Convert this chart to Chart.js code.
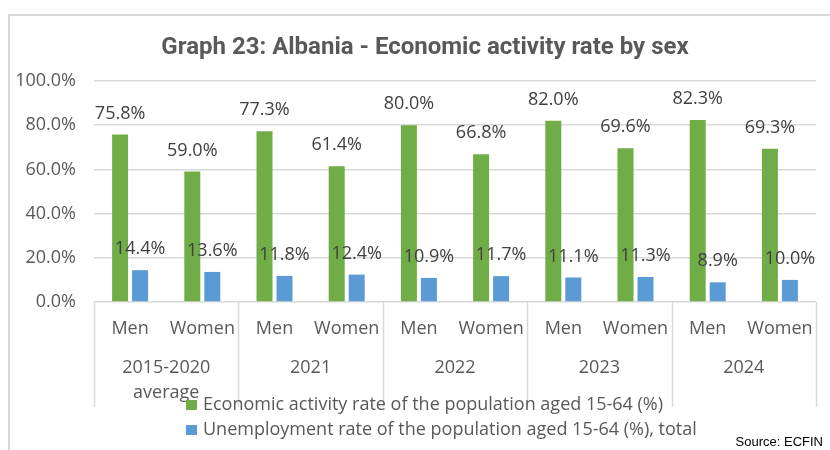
<!DOCTYPE html>
<html>
<head>
<meta charset="utf-8">
<script src="https://cdn.jsdelivr.net/npm/chart.js@4.4.1/dist/chart.umd.min.js"></script>
<style>
  html, body { margin: 0; padding: 0; background: #fff; }
  #wrap { width: 830px; height: 450px; position: relative; }
</style>
</head>
<body>
<div id="wrap"><canvas id="chart" width="830" height="450"></canvas></div>
<script>
// --- data ---
const years = ['2015-2020\naverage', '2021', '2022', '2023', '2024'];
const sexes = ['Men', 'Women'];
const activityRate = [75.8, 59.0, 77.3, 61.4, 80.0, 66.8, 82.0, 69.6, 82.3, 69.3];
const unemploymentRate = [14.4, 13.6, 11.8, 12.4, 10.9, 11.7, 11.1, 11.3, 8.9, 10.0];
const yTicks = [0, 20, 40, 60, 80, 100];
const seriesNames = [
    'Economic activity rate of the population aged 15-64 (%)',
    'Unemployment rate of the population aged 15-64 (%), total'
];
const titleText = 'Graph 23: Albania - Economic activity rate by sex';

const labels = [];
years.forEach(y => sexes.forEach(s => labels.push(s)));

const TEXT = '#595959';
const GRID = '#D9D9D9';
const FONT = "'Open Sans', sans-serif";

// outer frame, title, value labels, two level axis, legend and source
const decorPlugin = {
    id: 'decor',
    beforeDraw(chart) {
        const ctx = chart.ctx;
        ctx.save();
        ctx.strokeStyle = GRID;
        ctx.lineWidth = 2;
        ctx.beginPath();
        ctx.moveTo(9, 450);
        ctx.lineTo(9, 15);
        ctx.lineTo(830, 15);
        ctx.stroke();

        ctx.font = 'bold 24px Roboto, sans-serif';
        ctx.fillStyle = TEXT;
        ctx.textAlign = 'center';
        ctx.textBaseline = 'alphabetic';
        ctx.fillText(titleText, 425, 54);
        ctx.restore();
    },
    afterDatasetsDraw(chart) {
        const ctx = chart.ctx;
        ctx.save();
        ctx.font = '18px ' + FONT;
        ctx.fillStyle = '#404040';
        ctx.textAlign = 'center';
        ctx.textBaseline = 'middle';
        chart.data.datasets.forEach((ds, i) => {
            chart.getDatasetMeta(i).data.forEach((bar, j) => {
                ctx.fillText(ds.data[j].toFixed(1) + '%', bar.x, bar.y - 21);
            });
        });
        ctx.restore();
    },
    afterDraw(chart) {
        const ctx = chart.ctx;
        const x = chart.scales.x;
        const area = chart.chartArea;
        const step = x.getPixelForValue(1) - x.getPixelForValue(0);
        ctx.save();

        // group separators
        ctx.strokeStyle = GRID;
        ctx.lineWidth = 1.5;
        for (let g = 0; g <= years.length; g++) {
            const px = Math.round(x.getPixelForValue(g * 2) - step / 2) + 0.5;
            ctx.beginPath();
            ctx.moveTo(px, area.bottom);
            ctx.lineTo(px, 407);
            ctx.stroke();
        }

        // category labels
        ctx.font = '18px ' + FONT;
        ctx.fillStyle = TEXT;
        ctx.textAlign = 'center';
        ctx.textBaseline = 'middle';
        labels.forEach((lab, i) => {
            ctx.fillText(lab, x.getPixelForValue(i), 329);
        });
        years.forEach((yr, g) => {
            const cx = (x.getPixelForValue(g * 2) + x.getPixelForValue(g * 2 + 1)) / 2;
            yr.split('\n').forEach((line, k) => {
                ctx.fillText(line, cx, 368 + k * 25);
            });
        });

        // legend
        ctx.textAlign = 'left';
        chart.data.datasets.forEach((ds, i) => {
            const ly = 405 + i * 25;
            ctx.fillStyle = ds.backgroundColor;
            ctx.fillRect(186, ly - 5, 11, 10);
            ctx.fillStyle = TEXT;
            ctx.fillText(ds.label, 203, ly);
        });

        // source
        ctx.font = "13px 'Liberation Sans Narrow', 'Liberation Sans', sans-serif";
        ctx.fillStyle = '#000';
        ctx.textAlign = 'right';
        ctx.textBaseline = 'alphabetic';
        ctx.fillText('Source: ECFIN', 823, 446);
        ctx.restore();
    }
};

new Chart(document.getElementById('chart'), {
    type: 'bar',
    data: {
        labels: labels,
        datasets: [
            { label: seriesNames[0], data: activityRate, backgroundColor: '#70AD47' },
            { label: seriesNames[1], data: unemploymentRate, backgroundColor: '#5B9BD5' }
        ]
    },
    options: {
        responsive: false,
        animation: false,
        categoryPercentage: 0.554,
        barPercentage: 0.8,
        layout: { padding: { left: 0, right: 14, top: 81, bottom: 0 } },
        plugins: {
            legend: { display: false },
            tooltip: { enabled: false },
            title: { display: false }
        },
        scales: {
            x: {
                grid: { display: false },
                border: { display: false },
                ticks: { display: false },
                afterFit(scale) { scale.height = 148; }
            },
            y: {
                min: 0,
                max: 100,
                afterBuildTicks(scale) { scale.ticks = yTicks.map(v => ({ value: v })); },
                afterFit(scale) { scale.width = 94; },
                grid: { color: GRID, lineWidth: 1.5, drawTicks: false },
                border: { display: false },
                ticks: {
                    padding: 18,
                    color: TEXT,
                    font: { family: FONT, size: 18 },
                    callback: v => v.toFixed(1) + '%'
                }
            }
        }
    },
    plugins: [decorPlugin]
});
</script>
</body>
</html>
